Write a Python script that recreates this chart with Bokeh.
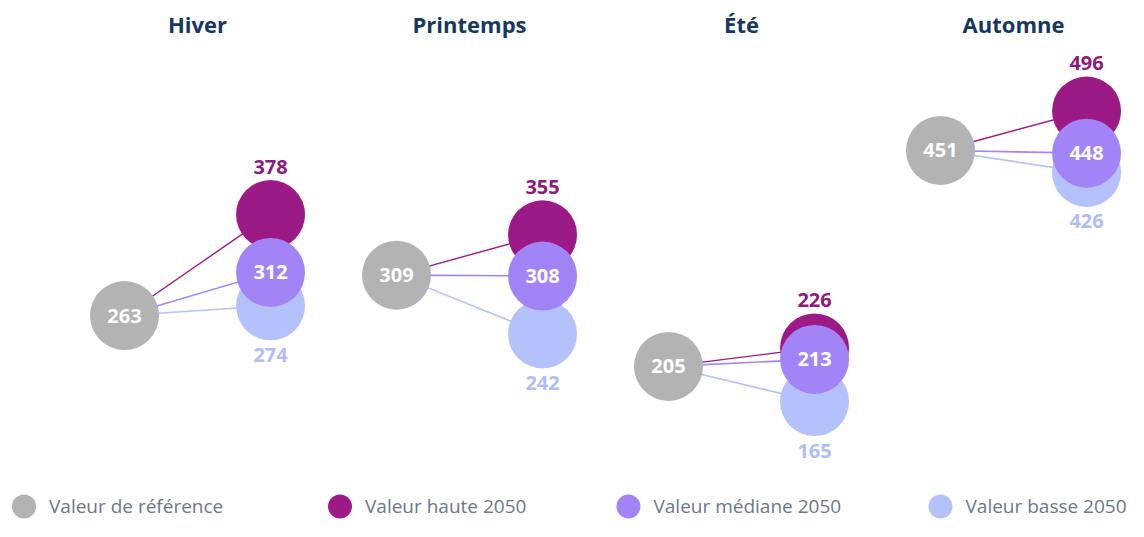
from bokeh.plotting import figure
from bokeh.models import ColumnDataSource, Range1d
from bokeh.core.properties import value
from bokeh.embed import file_html
from bokeh.resources import INLINE

# ---- data ----
seasons = ["Hiver", "Printemps", "Été", "Automne"]
ref_vals = [263, 309, 205, 451]
high_vals = [378, 355, 226, 496]
med_vals = [312, 308, 213, 448]
low_vals = [274, 242, 165, 426]
legend_labels = ["Valeur de référence", "Valeur haute 2050", "Valeur médiane 2050", "Valeur basse 2050"]

# ---- style ----
C_REF = "#b3b3b3"
C_HIGH = "#9c1a86"
C_MED = "#a384f7"
C_LOW = "#b4c1fa"
C_HIGH_TXT = "#8e1a7b"
C_LOW_TXT = "#b1bdf5"
C_TITLE = "#17375e"
C_LEG_TXT = "#6a7889"
FONT = "Open Sans"
OFF = 0.537          # horizontal offset of 2050 circles (in season units)
DIAM = 69
Y0, Y1 = 28.3, 621.9
X0, X1 = -0.4559, 3.6912
TITLE_Y = 595.0
LEG_Y = 45.4

W, H = 1128, 521
p = figure(width=W, height=H, output_backend="svg", toolbar_location=None,
           x_range=Range1d(X0, X1), y_range=Range1d(Y0, Y1),
           min_border=0)
p.axis.visible = False
p.grid.visible = False
p.outline_line_color = None
p.background_fill_color = "white"

xs = list(range(len(seasons)))
x2 = [x + OFF for x in xs]
src = ColumnDataSource(dict(
    x=xs, x2=x2, xt=[x + OFF / 2 for x in xs], season=seasons,
    ref=ref_vals, high=high_vals, med=med_vals, low=low_vals,
    ref_s=[str(v) for v in ref_vals], high_s=[str(v) for v in high_vals],
    med_s=[str(v) for v in med_vals], low_s=[str(v) for v in low_vals],
    ty=[TITLE_Y] * len(seasons),
))

# connecting lines
p.segment(x0="x", y0="ref", x1="x2", y1="low", source=src, line_color=C_LOW, line_width=1.6)
p.segment(x0="x", y0="ref", x1="x2", y1="med", source=src, line_color=C_MED, line_width=1.6)
p.segment(x0="x", y0="ref", x1="x2", y1="high", source=src, line_color=C_HIGH, line_width=1.4)

# circles
p.scatter(x="x", y="ref", source=src, size=DIAM, fill_color=C_REF, line_color=None)
p.scatter(x="x2", y="low", source=src, size=DIAM, fill_color=C_LOW, line_color=None)
p.scatter(x="x2", y="high", source=src, size=DIAM, fill_color=C_HIGH, line_color=None)
p.scatter(x="x2", y="med", source=src, size=DIAM, fill_color=C_MED, line_color=None)

# labels
common = dict(text_font=value(FONT), text_font_style="bold", text_align="center",
              text_baseline="middle", text_font_size="20px")
p.text(x="x", y="ref", text="ref_s", source=src, text_color="white", **common)
p.text(x="x2", y="med", text="med_s", source=src, text_color="white", **common)
p.text(x="x2", y="high", text="high_s", source=src, text_color=C_HIGH_TXT, y_offset=-48, **common)
p.text(x="x2", y="low", text="low_s", source=src, text_color=C_LOW_TXT, y_offset=49, **common)

# titles
p.text(x="xt", y="ty", text="season", source=src, text_color=C_TITLE,
       text_font=value(FONT), text_font_style="bold", text_align="center",
       text_baseline="middle", text_font_size="22px")

# legend (manual)
leg_x = [-0.3695, 0.7923, 1.8529, 3.0]
leg_colors = [C_REF, C_HIGH, C_MED, C_LOW]
leg_src = ColumnDataSource(dict(x=leg_x, y=[LEG_Y] * 4, c=leg_colors, t=legend_labels))
p.scatter(x="x", y="y", source=leg_src, size=24, fill_color="c", line_color=None)
p.text(x="x", y="y", text="t", source=leg_src, x_offset=25, y_offset=0, text_color=C_LEG_TXT,
       text_font=value(FONT), text_font_size="19px", text_baseline="middle", text_align="left")

open("out.html", "w").write(file_html(p, INLINE))
